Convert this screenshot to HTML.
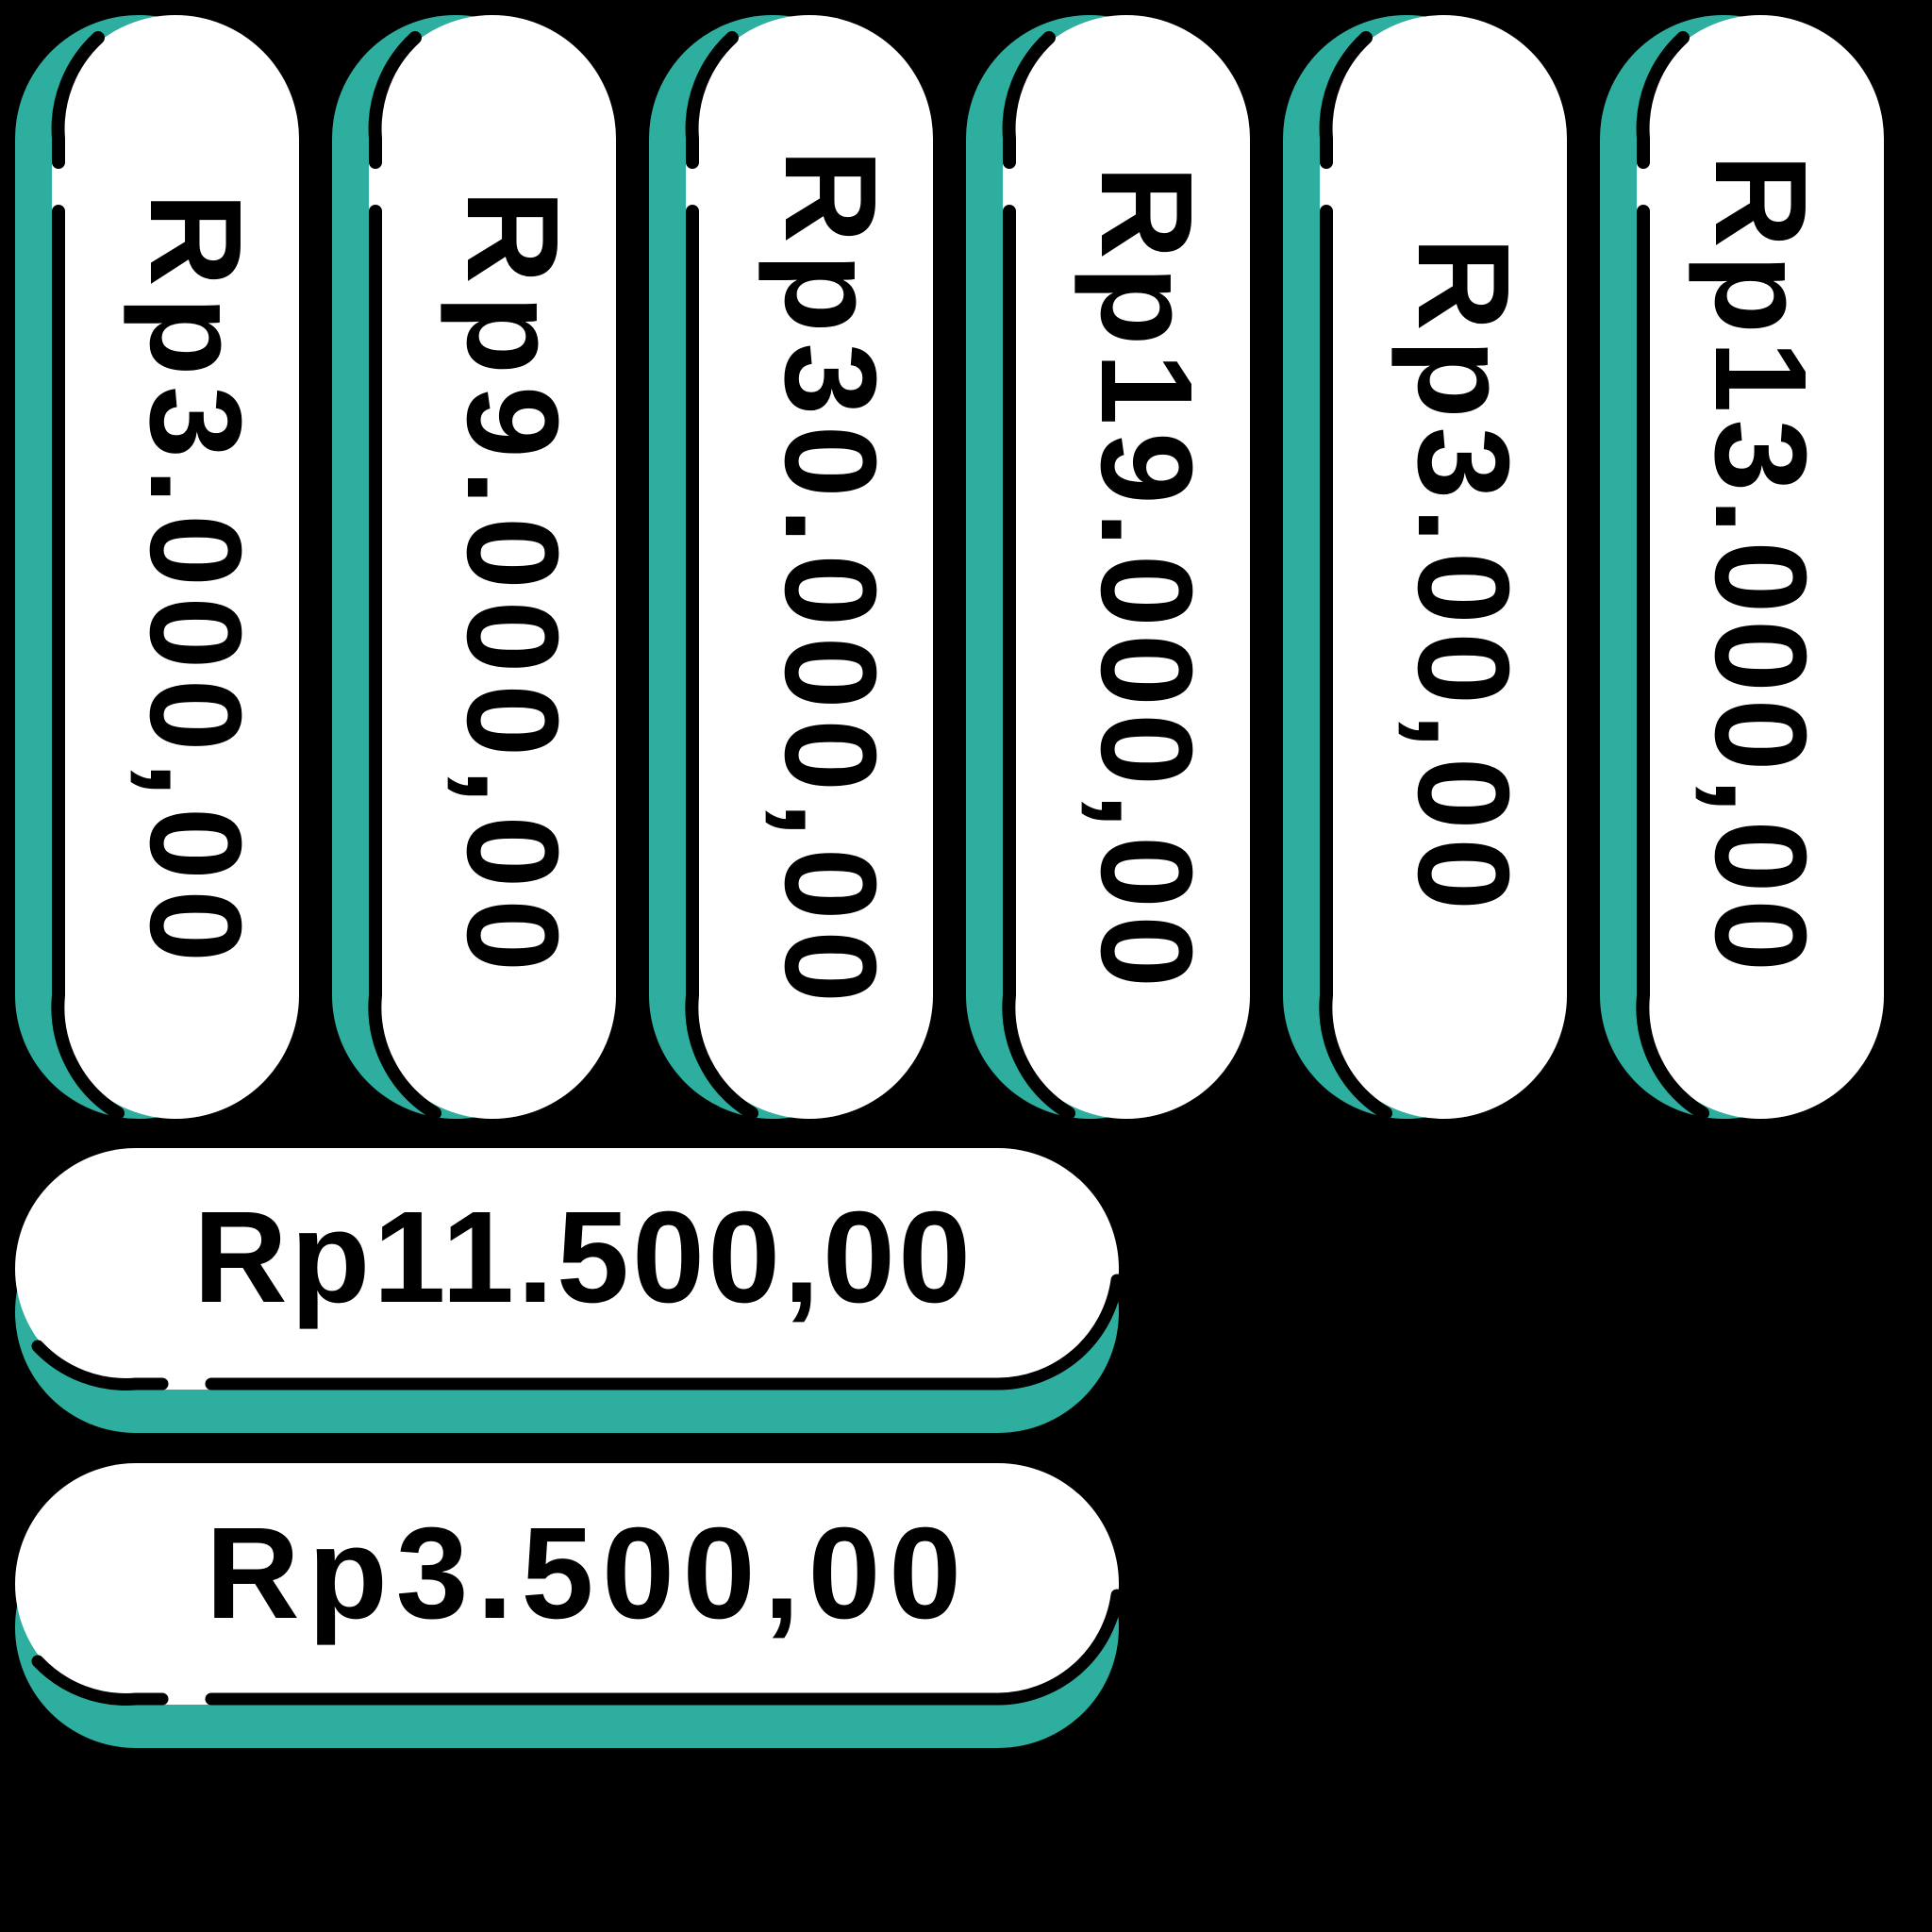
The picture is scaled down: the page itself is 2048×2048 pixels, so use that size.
<!DOCTYPE html>
<html><head><meta charset="utf-8"><style>html,body{margin:0;padding:0;background:#000}svg{display:block}</style></head>
<body>
<svg width="2048" height="2048" viewBox="0 0 2048 2048" xmlns="http://www.w3.org/2000/svg">
<rect width="2048" height="2048" fill="#000"/>
<defs>
<g id="vp">
  <rect x="16" y="16" width="262" height="1170" rx="131" fill="#2eae9e"/>
  <rect x="55" y="16" width="262" height="1170" rx="131" fill="#fff"/>
  <path d="M104,40 A131,131 0 0 0 62,147 L62,172" fill="none" stroke="#000" stroke-width="14" stroke-linecap="round"/>
  <path d="M62,224 L62,1055 A131,131 0 0 0 125,1180" fill="none" stroke="#000" stroke-width="14" stroke-linecap="round"/>
</g>
<g id="hp">
  <rect x="16" y="0" width="1170" height="256" rx="128" fill="#2eae9e" transform="translate(0,46)"/>
  <rect x="16" y="0" width="1170" height="256" rx="128" fill="#fff"/>
  <path d="M40,210 A128,128 0 0 0 144,250 L172,250" fill="none" stroke="#000" stroke-width="13" stroke-linecap="round"/>
  <path d="M224,250 L1058,250 A128,128 0 0 0 1184,140" fill="none" stroke="#000" stroke-width="13" stroke-linecap="round"/>
</g>
</defs>
<use href="#vp" x="0"/>
<use href="#vp" x="336"/>
<use href="#vp" x="672"/>
<use href="#vp" x="1008"/>
<use href="#vp" x="1344"/>
<use href="#vp" x="1680"/>
<use href="#hp" y="1217"/>
<use href="#hp" y="1551"/>
<g font-family="Liberation Sans, sans-serif" font-weight="bold" font-size="138" fill="#000">
  <text transform="translate(160,204) rotate(90)" textLength="816" lengthAdjust="spacing">Rp3.000,00</text>
  <text transform="translate(496,201) rotate(90)" textLength="829" lengthAdjust="spacing">Rp9.000,00</text>
  <text transform="translate(833,158) rotate(90)" textLength="905" lengthAdjust="spacing">Rp30.000,00</text>
  <text transform="translate(1168,175) rotate(90)" textLength="872" lengthAdjust="spacing">Rp19.000,00</text>
  <text transform="translate(1504,251) rotate(90)" textLength="714" lengthAdjust="spacing">Rp3.00,00</text>
  <text transform="translate(1819,163) rotate(90)" textLength="867" lengthAdjust="spacing">Rp13.000,00</text>
  <text x="205" y="1380" textLength="824" lengthAdjust="spacing">Rp11.500,00</text>
  <text x="218" y="1715" textLength="801" lengthAdjust="spacing">Rp3.500,00</text>
</g>
</svg>
</body></html>
